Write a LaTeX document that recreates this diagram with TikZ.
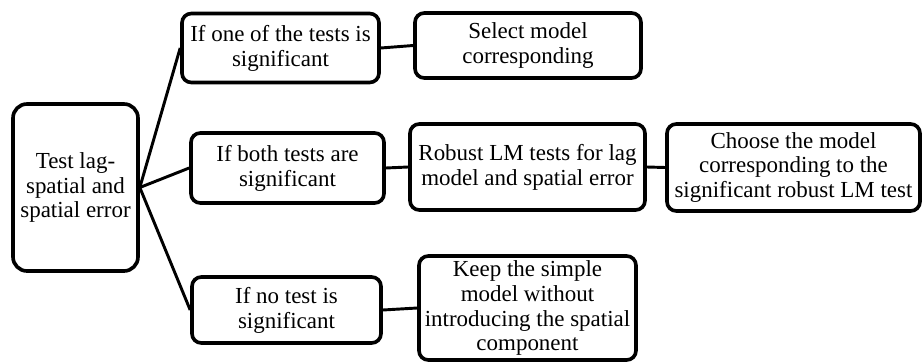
\documentclass[tikz,border=0pt]{standalone}
\usepackage{fontspec}
\setmainfont{Liberation Serif}
\newfontfamily\boxfont{Liberation Serif}
\usepackage{tikz}
\usetikzlibrary{calc}
\usetikzlibrary{shapes}

\begin{document}
\begin{tikzpicture}[x=0.03cm, y=-0.03cm]
	\tikzstyle{every text node part}=[font=\boxfont\fontsize{19.6}{21.3}\selectfont]
	\tikzset{box/.style = {rectangle, draw, line width = 3.1pt, rounded corners = 8pt, align = center, inner sep = 1pt}}
	\tikzset{link/.style = {line width = 2.5pt}}

\useasboundingbox (0,0) rectangle (924,363);

%% Start node
\draw (75.5,187.5) node[box, name = test, rounded corners = 12pt, minimum width = 3.75cm, minimum height = 5.01cm]{Test lag-\\spatial and\\spatial error};

%% Cases
\draw (280.5,48) node[box, name = one, minimum width = 5.91cm, minimum height = 2.07cm]{If one of the tests is\\significant};
\draw (287.5,168) node[box, name = both, minimum width = 5.79cm, minimum height = 2.1cm]{If both tests are\\significant};
\draw (286.5,310) node[box, name = none, minimum width = 5.67cm, minimum height = 1.98cm]{If no test is\\significant};

%% Decisions
\draw (528,45.5) node[box, name = select, minimum width = 6.78cm, minimum height = 1.95cm]{Select model\\corresponding};
\draw (527.5,167) node[box, name = robust, minimum width = 7.05cm, minimum height = 2.58cm]{Robust LM tests for lag\\model and spatial error};
\draw (793.5,167.5) node[box, name = choose, minimum width = 7.59cm, minimum height = 2.61cm]{Choose the model\\corresponding to the\\significant robust LM test};
\draw (527.5,308) node[box, name = keep, minimum width = 6.51cm, minimum height = 3.12cm]{Keep the simple\\model without\\introducing the spatial\\component};

%% Edges
\draw[link] (test.east) -- (one.west);
\draw[link] (test.east) -- (both.west);
\draw[link] (test.east) -- (none.west);
\draw[link] (one.east) -- (select.west);
\draw[link] (both.east) -- (robust.west);
\draw[link] (robust.east) -- (choose.west);
\draw[link] (none.east) -- (keep.west);

\end{tikzpicture}
\end{document}
